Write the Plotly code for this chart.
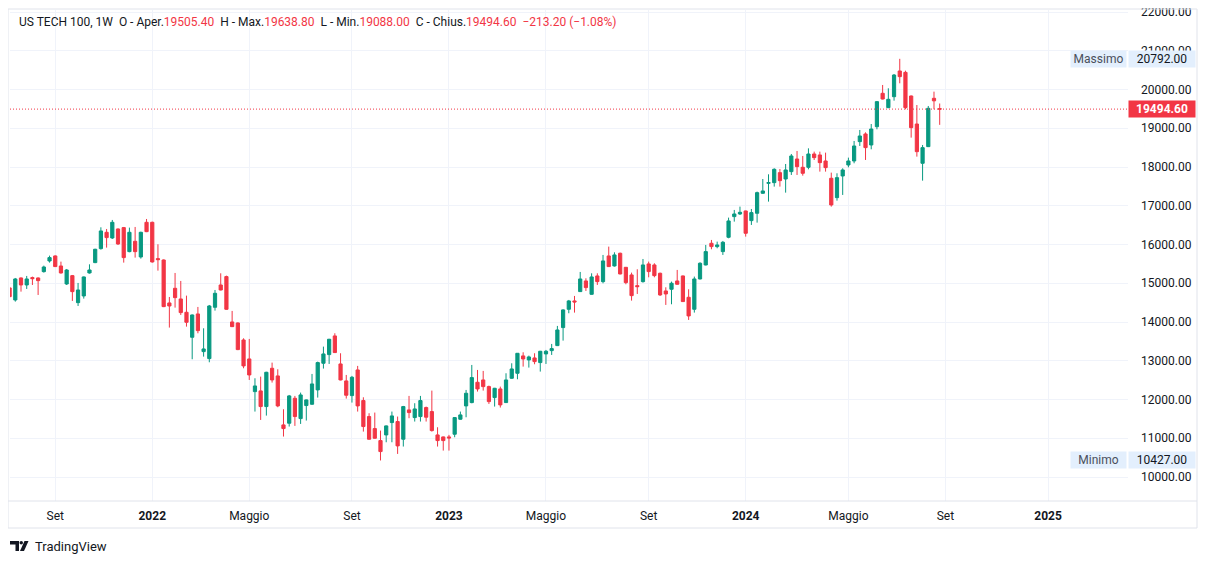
import plotly.graph_objects as go
import pandas as pd

# ---------------- data (weekly candles, US TECH 100) ----------------
start_week = "2021-07-12"
opens = [14880, 14569, 15137, 14956, 15146, 15137, 15300, 15575, 15705, 15446,
         14982, 15197, 14500, 14673, 15266, 15533, 15894, 16315, 16169, 16401,
         16436, 15816, 16083, 15679, 16573, 16573, 15636, 15601, 14492, 14870,
         14595, 14251, 13606, 14208, 13236, 13056, 14380, 14956, 15172, 14002,
         13976, 13537, 13047, 12204, 12222, 11818, 12806, 12609, 11345, 11388,
         12032, 11508, 11844, 11878, 12248, 12935, 13159, 13641, 12918, 12480,
         12101, 12763, 11973, 11560, 11250, 10940, 11086, 11405, 11431, 10975,
         11732, 11534, 11560, 11792, 11689, 11086, 11035, 11035, 11104, 11491,
         11835, 11921, 12445, 12505, 12333, 12050, 12273, 11921, 12548, 12677,
         13125, 13021, 13073, 12953, 13176, 13262, 13391, 13856, 14329, 14544,
         14785, 15060, 14715, 15189, 15042, 15705, 15447, 15774, 15412, 15215,
         14939, 15042, 15499, 15473, 15258, 14802, 14845, 15060, 15189, 14638,
         14329, 15111, 15472, 16032, 15946, 15817, 16187, 16720, 16788, 16866,
         16617, 16806, 17322, 17580, 17597, 17855, 17691, 17881, 18207, 17993,
         17993, 18336, 18311, 18156, 17709, 17210, 17769, 18053, 18156, 18655,
         18853, 18569, 19041, 19902, 19532, 19815, 20478, 20443, 19833, 19110,
         18096, 18526, 19773, 19505.4]
highs = [14910, 15137, 15150, 15189, 15172, 15150, 15455, 15713, 15720, 15558,
         15369, 15214, 15008, 15175, 15489, 15890, 16444, 16401, 16634, 16415,
         16453, 16436, 16453, 16330, 16659, 16590, 16006, 15615, 14646, 15266,
         15060, 14681, 14195, 14389, 13838, 14440, 14827, 15257, 15197, 14286,
         13990, 13580, 13563, 12548, 12591, 12715, 12952, 12781, 11749, 12118,
         12093, 12179, 12000, 12660, 12978, 13365, 13565, 13710, 13194, 12634,
         12609, 12867, 12058, 11646, 11663, 11198, 11330, 11689, 11560, 11835,
         12093, 11904, 12093, 11818, 12230, 11284, 11044, 11087, 11540, 11689,
         12247, 12892, 12763, 12738, 12359, 12300, 12333, 12677, 12935, 13200,
         13219, 13133, 13194, 13255, 13279, 13434, 13899, 14329, 14570, 14673,
         15292, 15128, 15257, 15257, 15731, 15946, 15799, 15791, 15420, 15275,
         15361, 15627, 15559, 15516, 15275, 14896, 15043, 15344, 15200, 14845,
         15172, 15542, 15989, 16118, 16075, 16092, 16694, 16892, 16978, 16875,
         16917, 17365, 17691, 17812, 17967, 17949, 18078, 18336, 18414, 18285,
         18482, 18397, 18397, 18371, 17855, 17838, 17967, 18242, 18672, 18956,
         18895, 19110, 19700, 20117, 20031, 20400, 20792, 20486, 19845, 19600,
         18569, 19575, 19945, 19638.8]
lows = [14630, 14526, 14784, 14853, 14956, 14698, 15275, 15533, 15420, 15250,
        14956, 14544, 14414, 14604, 15250, 15520, 15868, 15920, 16143, 15988,
        15533, 15800, 15662, 15636, 16320, 15533, 15326, 14385, 13856, 14371,
        14182, 13881, 13039, 13709, 13107, 12961, 14294, 14815, 14315, 13870,
        13275, 12806, 12505, 11689, 11473, 11585, 12437, 11801, 11044, 11302,
        11319, 11370, 11457, 11865, 12050, 12798, 12918, 13200, 12495, 12024,
        11921, 11689, 11172, 10965, 10992, 10427, 10897, 10897, 10596, 10786,
        11517, 11431, 11431, 11431, 11172, 10786, 10682, 10682, 11026, 11480,
        11542, 11903, 12205, 12230, 11886, 11818, 11792, 11910, 12535, 12523,
        12849, 12824, 12910, 12721, 12918, 13150, 13380, 13520, 14226, 14243,
        14775, 14802, 14705, 14957, 14999, 15420, 15430, 15230, 14974, 14552,
        14724, 15017, 15154, 15154, 14673, 14441, 14458, 14965, 14520, 14054,
        14243, 15100, 15462, 15877, 15903, 15731, 16161, 16591, 16763, 16204,
        16505, 16565, 17310, 17107, 17494, 17494, 17339, 17795, 17795, 17777,
        17941, 18181, 17881, 17881, 16978, 17132, 17279, 17992, 18096, 18543,
        18182, 18457, 18973, 19745, 19520, 19712, 20160, 19489, 18758, 18268,
        17648, 18515, 19489, 19088]
closes = [14655, 15111, 14956, 15111, 15120, 15068, 15420, 15662, 15430, 15266,
          15343, 14784, 14827, 15163, 15343, 15877, 16350, 16178, 16573, 16014,
          15662, 16315, 15816, 16315, 16332, 15550, 15610, 14397, 14414, 14629,
          14243, 13993, 14182, 13778, 13305, 14414, 14741, 14827, 14328, 13881,
          13288, 12867, 12634, 12350, 11818, 12703, 12505, 11835, 11250, 12093,
          11560, 12118, 11990, 12402, 12953, 13176, 13555, 13211, 12505, 12110,
          12574, 11835, 11302, 10975, 11000, 10656, 11319, 11577, 10803, 11818,
          11663, 11757, 11973, 11543, 11198, 10940, 10940, 11009, 11534, 11603,
          12161, 12566, 12273, 12333, 11946, 12290, 11861, 12505, 12789, 13193,
          13047, 13099, 12978, 13245, 13245, 13314, 13795, 14312, 14544, 14518,
          15111, 14888, 15163, 15042, 15576, 15430, 15731, 15240, 15017, 14681,
          14913, 15473, 15301, 15197, 14699, 14724, 15000, 14974, 14527, 14157,
          15111, 15516, 15817, 15946, 15989, 16058, 16608, 16788, 16831, 16290,
          16823, 17339, 17382, 17597, 17941, 17648, 17924, 18285, 18010, 17838,
          18336, 18242, 18113, 17984, 17021, 17726, 17924, 18156, 18543, 18801,
          18500, 18981, 19687, 19755, 19747, 20374, 20332, 19532, 19016, 18396,
          18500, 19515, 19707.8, 19494.6]

x_tick_dates = ["2021-09-06", "2022-01-03", "2022-05-02", "2022-09-05", "2023-01-02",
                "2023-05-01", "2023-09-04", "2024-01-01", "2024-05-06", "2024-09-02",
                "2025-01-06"]
x_tick_labels = ["Set", "2022", "Maggio", "Set", "2023", "Maggio", "Set", "2024",
                 "Maggio", "Set", "2025"]
y_tick_values = [10000, 11000, 12000, 13000, 14000, 15000, 16000, 17000, 18000,
                 19000, 20000, 21000, 22000]
y_tick_labels = ["%.2f" % v for v in y_tick_values]

max_value = 20792.00
min_value = 10427.00
last_close = closes[-1]
title_name = "US TECH 100, 1W"
change = -213.20
change_pct = -1.08

# ---------------- styling ----------------
UP = "#089981"
DOWN = "#F23645"
GRID = "#f0f3fa"
BORDER = "#e0e3eb"
TXT = "#131722"
FONT = "Roboto, 'Noto Sans', Arial, sans-serif"

# the page body has an 8px margin; figure is sized/positioned to compensate
OFF = 8
W, H = 1209 - 2 * OFF, 564 - 2 * OFF
PL, PR, PT, PB = 10, 1128, 10, 501  # plot area in target-page pixels


def pxx(x):
    return (x - PL) / (PR - PL)


def pxy(y):
    return (PB - y) / (PB - PT)


dates = pd.date_range(start_week, periods=len(opens), freq="7D")

fig = go.Figure()
fig.add_trace(go.Candlestick(
    x=dates, open=opens, high=highs, low=lows, close=closes,
    increasing=dict(line=dict(color=UP, width=1), fillcolor=UP),
    decreasing=dict(line=dict(color=DOWN, width=1), fillcolor=DOWN),
    whiskerwidth=0, showlegend=False, hoverinfo="skip",
))

fig.update_layout(
    width=W, height=H, autosize=False,
    margin=dict(l=PL - OFF, r=W - (PR - OFF), t=PT - OFF, b=H - (PB - OFF), pad=0),
    paper_bgcolor="white", plot_bgcolor="white",
    font=dict(family=FONT, size=12, color=TXT),
    showlegend=False,
    boxgap=0.25, boxgroupgap=0.25,
    xaxis=dict(
        type="date",
        range=["2021-07-12 12:00", "2025-04-14"],
        rangeslider=dict(visible=False),
        tickmode="array", tickvals=x_tick_dates,
        ticktext=[("<b>%s</b>" % t) if t.isdigit() else t for t in x_tick_labels],
        showgrid=True, gridcolor=GRID, gridwidth=1,
        zeroline=False, showline=False, ticks="",
        ticklabelstandoff=6, ticklabeloverflow="allow", automargin=False,
        tickfont=dict(size=12, color=TXT, family=FONT),
        fixedrange=True,
    ),
    yaxis=dict(
        side="right",
        range=[9381, 22052],
        tickmode="array", tickvals=y_tick_values, ticktext=y_tick_labels,
        showgrid=True, gridcolor=GRID, gridwidth=1,
        zeroline=False, showline=False, ticks="",
        ticklabelstandoff=12, ticklabeloverflow="allow", automargin=False,
        tickfont=dict(size=12, color=TXT, family=FONT),
        fixedrange=True,
    ),
)

shapes = [
    dict(type="rect", xref="paper", yref="paper",
         x0=pxx(8), x1=pxx(1197), y0=pxy(528), y1=pxy(9),
         line=dict(color=BORDER, width=1), fillcolor="rgba(0,0,0,0)", layer="above"),
    dict(type="line", xref="paper", yref="paper",
         x0=pxx(8), x1=pxx(1197), y0=pxy(501), y1=pxy(501),
         line=dict(color=BORDER, width=1)),
    dict(type="line", xref="paper", yref="y", x0=0, x1=1,
         y0=last_close, y1=last_close,
         line=dict(color=DOWN, width=1, dash="1px,2px")),
]

# TradingView logo (approximate)
shapes += [
    dict(type="path", xref="paper", yref="paper",
         path="M %f %f L %f %f L %f %f L %f %f L %f %f L %f %f Z" % (
             pxx(10), pxy(541), pxx(19), pxy(541), pxx(19), pxy(551), pxx(15.5), pxy(551),
             pxx(15.5), pxy(544.5), pxx(10), pxy(544.5)),
         fillcolor=TXT, line=dict(width=0)),
    dict(type="circle", xref="paper", yref="paper",
         x0=pxx(19.5), x1=pxx(23), y0=pxy(544.5), y1=pxy(541),
         fillcolor=TXT, line=dict(width=0)),
    dict(type="path", xref="paper", yref="paper",
         path="M %f %f L %f %f L %f %f L %f %f Z" % (
             pxx(24.5), pxy(541), pxx(28.5), pxy(541), pxx(24), pxy(551), pxx(20), pxy(551)),
         fillcolor=TXT, line=dict(width=0)),
]
fig.update_layout(shapes=shapes)


def red(s):
    return "<span style='color:%s'>%s</span>" % (DOWN, s)


title_html = (
    "%s  O - Aper.%s  H - Max.%s  L - Min.%s  C - Chius.%s  %s" % (
        title_name, red("%.2f" % opens[-1]), red("%.2f" % highs[-1]),
        red("%.2f" % lows[-1]), red("%.2f" % closes[-1]),
        red("\u2212%.2f (\u2212%.2f%%)" % (abs(change), abs(change_pct))))
)

annotations = [
    dict(xref="paper", yref="paper", x=pxx(17), y=pxy(22), xanchor="left", yanchor="middle",
         text=title_html, showarrow=False, font=dict(size=12, color=TXT, family=FONT)),
    dict(xref="paper", yref="paper", x=pxx(33), y=pxy(546), xanchor="left", yanchor="middle",
         text="TradingView", showarrow=False, font=dict(size=13, color=TXT, family=FONT)),
]

LBL_BG = "#e3effd"
for val, name in [(max_value, "Massimo"), (min_value, "Minimo")]:
    annotations.append(dict(
        xref="paper", yref="y", x=pxx(1127), y=val, xanchor="right", yanchor="middle",
        text=name, showarrow=False, bgcolor=LBL_BG, width=51, height=12, borderpad=2,
        align="center", font=dict(size=12, color="#4a4f5c", family=FONT)))
    annotations.append(dict(
        xref="paper", yref="y", x=pxx(1128), y=val, xanchor="left", yanchor="middle",
        text="%.2f" % val, showarrow=False, bgcolor=LBL_BG, width=62, height=12, borderpad=2,
        align="center", font=dict(size=12, color=TXT, family=FONT)))

annotations.append(dict(
    xref="paper", yref="y", x=pxx(1128), y=last_close, xanchor="left", yanchor="middle",
    text="<b>%.2f</b>" % last_close, showarrow=False, bgcolor=DOWN, width=62, height=12,
    borderpad=2, align="center", font=dict(size=12, color="white", family=FONT)))

fig.update_layout(annotations=annotations)

fig.write_html("out.html")
